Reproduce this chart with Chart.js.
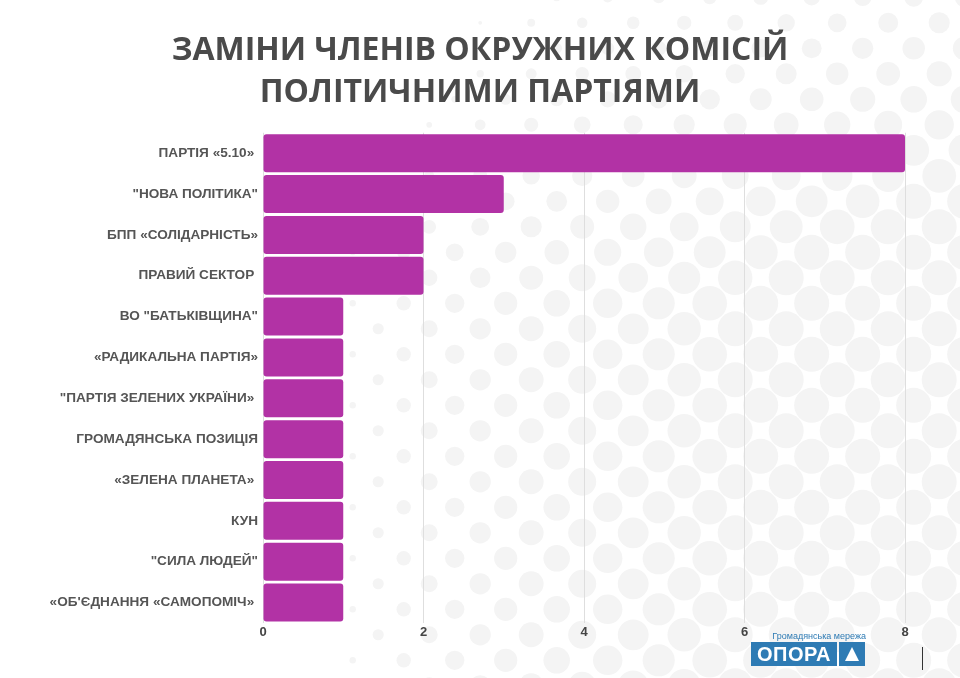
<!DOCTYPE html>
<html>
<head>
<meta charset="utf-8">
<script src="https://cdn.jsdelivr.net/npm/chart.js@4.4.1/dist/chart.umd.min.js"></script>
<style>
    html, body { margin: 0; padding: 0; background: #fff; }
    #wrap { position: relative; width: 960px; height: 678px; overflow: hidden; }
    #logo { position: absolute; left: 751px; top: 631px; width: 116px; font-family: "Liberation Sans", Arial, sans-serif; }
    #logo .sub { font-size: 9px; color: #2e7bb4; text-align: right; line-height: 10px; padding-right: 1px; }
    #logo .box { display: flex; height: 24px; margin-top: 1px; }
    #logo .name { background: #2e7bb4; color: #fff; font-weight: bold; font-size: 20px; line-height: 24px; width: 86px; text-align: center; letter-spacing: 0.5px; }
    #logo .tri { background: #2e7bb4; width: 26px; margin-left: 2px; position: relative; }
    #logo .tri:after { content: ''; position: absolute; left: 6px; top: 5px; border-left: 7px solid transparent; border-right: 7px solid transparent; border-bottom: 14px solid #fff; }
    #mark { position: absolute; left: 922px; top: 647px; width: 1px; height: 23px; background: #333; }
</style>
</head>
<body>
<div id="wrap">
    <canvas id="partyChart" width="960" height="678"></canvas>
    <div id="logo">
        <div class="sub">Громадянська мережа</div>
        <div class="box"><div class="name">ОПОРА</div><div class="tri"></div></div>
    </div>
    <div id="mark"></div>
</div>
<script>
const chartTitle = ['ЗАМІНИ ЧЛЕНІВ ОКРУЖНИХ КОМІСІЙ', 'ПОЛІТИЧНИМИ ПАРТІЯМИ'];

const partyLabels = [
    'ПАРТІЯ «5.10» ',
    '"НОВА ПОЛІТИКА"',
    'БПП «СОЛІДАРНІСТЬ»',
    'ПРАВИЙ СЕКТОР ',
    'ВО "БАТЬКІВЩИНА"',
    '«РАДИКАЛЬНА ПАРТІЯ»',
    '"ПАРТІЯ ЗЕЛЕНИХ УКРАЇНИ» ',
    'ГРОМАДЯНСЬКА ПОЗИЦІЯ',
    '«ЗЕЛЕНА ПЛАНЕТА» ',
    'КУН',
    '"СИЛА ЛЮДЕЙ"',
    '«ОБ\'ЄДНАННЯ «САМОПОМІЧ» '
];

const replacementCounts = [8, 3, 2, 2, 1, 1, 1, 1, 1, 1, 1, 1];

const xTicks = [0, 2, 4, 6, 8];

// light halftone dots behind the chart
const dotsBackground = {
    id: 'dotsBackground',
    beforeDraw(chart) {
        const ctx = chart.ctx;
        ctx.save();
        ctx.fillStyle = '#fff';
        ctx.fillRect(0, 0, chart.width, chart.height);
        ctx.fillStyle = '#f4f4f4';
        const step = 25.5;
        for (let col = -20; col < 30; col++) {
            const x = 352.7 + col * step;
            if (x < 330 || x > chart.width + 20) continue;
            const yStart = (col % 2 === 0 ? 303.3 : 328.8) - 51 * 8;
            for (let y = yStart; y < chart.height + 20; y += 51) {
                const x0 = 340 + Math.max(0, 250 - y) * 0.55;
                const g = Math.min(1, 0.5 + Math.max(0, y) / 600);
                let r = 0.9 * Math.sqrt(Math.max(0, x - x0)) * g;
                r = Math.min(r, 17.5);
                if (r < 1.2) continue;
                ctx.beginPath();
                ctx.arc(x, y, r, 0, Math.PI * 2);
                ctx.fill();
            }
        }
        ctx.restore();
    }
};

const ctx = document.getElementById('partyChart').getContext('2d');
const partyChart = new Chart(ctx, {
    type: 'bar',
    data: {
        labels: partyLabels,
        datasets: [{
            data: replacementCounts,
            backgroundColor: '#b232a5',
            borderRadius: 3,
            borderSkipped: false,
            barPercentage: 0.93,
            categoryPercentage: 1.0
        }]
    },
    options: {
        indexAxis: 'y',
        responsive: false,
        animation: false,
        layout: {
            padding: 0
        },
        scales: {
            x: {
                min: 0,
                max: 8,
                afterBuildTicks: function(scale) {
                    scale.ticks = xTicks.map(v => ({ value: v }));
                },
                afterFit: function(scale) {
                    scale.height = 55;
                },
                grid: {
                    color: '#dedede',
                    drawTicks: false
                },
                border: { display: false },
                ticks: {
                    padding: 2,
                    color: '#444',
                    font: { family: 'Liberation Sans', weight: 'bold', size: 13 }
                }
            },
            y: {
                afterFit: function(scale) {
                    scale.width = 263;
                },
                grid: { display: false, drawTicks: false },
                border: { display: false },
                ticks: {
                    padding: 5,
                    color: '#555',
                    font: { family: 'Liberation Sans', weight: 'bold', size: 13.6 }
                }
            },
            // empty right-hand axis, only reserves the right margin
            yRight: {
                type: 'category',
                position: 'right',
                afterFit: function(scale) {
                    scale.width = 55;
                },
                grid: { display: false, drawTicks: false },
                border: { display: false },
                ticks: { display: false }
            }
        },
        plugins: {
            legend: { display: false },
            tooltip: { enabled: false },
            title: {
                display: true,
                text: chartTitle,
                color: '#4a4a4a',
                font: { family: 'Open Sans', weight: 'bold', size: 32, lineHeight: 1.34 },
                padding: { top: 29, bottom: 18 }
            }
        }
    },
    plugins: [dotsBackground]
});
</script>
</body>
</html>
